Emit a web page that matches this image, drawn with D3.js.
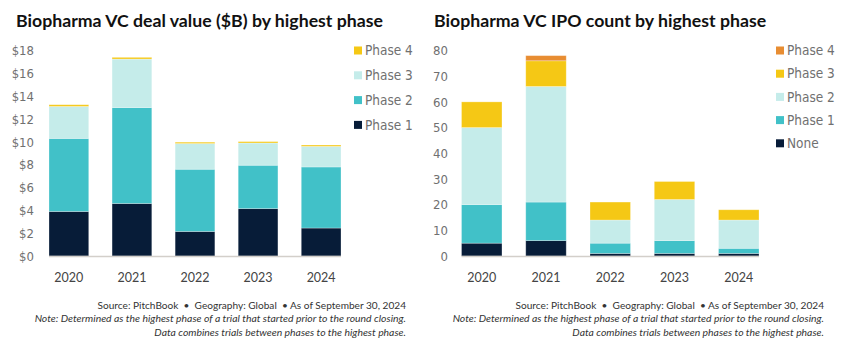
<!DOCTYPE html>
<html>
<head>
<meta charset="utf-8">
<script src="https://cdn.jsdelivr.net/npm/d3@7"></script>
<style>
  body { margin: 0; background: #fff; }
  svg { display: block; }
  .title { font-family: "Lato", "Open Sans", sans-serif; font-weight: 700; font-size: 17.7px; fill: #111; }
  .tick text { font-family: "Liberation Sans Narrow", "DejaVu Sans Condensed", "Roboto", sans-serif; font-size: 13px; font-weight: 300; fill: #707070; }
  .year { font-family: "Lato", "Open Sans", sans-serif; font-size: 12.5px; fill: #444; }
  .leg { font-family: "Liberation Sans Narrow", "DejaVu Sans Condensed", "Roboto", sans-serif; font-size: 13.5px; font-weight: 300; fill: #707070; }
  .src { font-family: "Lato", "Open Sans", sans-serif; font-size: 10.1px; fill: #333; }
  .note { font-family: "Lato", "Open Sans", sans-serif; font-size: 10.4px; font-style: italic; fill: #333; }
</style>
</head>
<body>
<script>
var years = ["2020", "2021", "2022", "2023", "2024"];

// left chart: deal value ($B)
var dealPhases = ["Phase 1", "Phase 2", "Phase 3", "Phase 4"];
var dealPhase1 = [3.9, 4.6, 2.15, 4.15, 2.45];
var dealPhase2 = [6.4, 8.4, 5.45, 3.8, 5.35];
var dealPhase3 = [2.8, 4.25, 2.25, 1.95, 1.8];
var dealPhase4 = [0.15, 0.15, 0.12, 0.12, 0.12];
var dealColors = ["#071c38", "#41c1c8", "#c5ecea", "#f5c815"];
var dealTicks = [0, 2, 4, 6, 8, 10, 12, 14, 16, 18];

// right chart: IPO count
var ipoPhases = ["None", "Phase 1", "Phase 2", "Phase 3", "Phase 4"];
var ipoNone = [5, 6, 1, 1, 1];
var ipoPhase1 = [15, 15, 4, 5, 2];
var ipoPhase2 = [30, 45, 9, 16, 11];
var ipoPhase3 = [10, 10, 7, 7, 4];
var ipoPhase4 = [0, 2, 0, 0, 0];
var ipoColors = ["#071c38", "#41c1c8", "#c5ecea", "#f5c815", "#e88d32"];
var ipoTicks = [0, 10, 20, 30, 40, 50, 60, 70, 80];

var W = 849, H = 354;
var svg = d3.select("body").append("svg")
   .attr("width", W)
   .attr("height", H);

function drawChart(opt) {
   var g = svg.append("g");
   var rows = years.map(function (y, i) {
      var r = { year: y };
      opt.keys.forEach(function (k, j) { r[k] = opt.series[j][i]; });
      return r;
   });
   var stack = d3.stack().keys(opt.keys)(rows);

   var x = d3.scaleBand()
      .domain(years)
      .range(opt.xRange)
      .paddingInner(0.37)
      .paddingOuter(0);
   var y = d3.scaleLinear()
      .domain([0, opt.yMax])
      .range([256, opt.yTop]);

   g.append("text")
      .attr("class", "title")
      .attr("x", opt.titleX)
      .attr("y", 27)
      .text(opt.title);

   var yAxis = d3.axisLeft(y)
      .tickValues(opt.ticks)
      .tickSize(0)
      .tickPadding(0)
      .tickFormat(opt.fmt);
   g.append("g")
      .attr("transform", "translate(" + opt.tickX + ",0)")
      .call(yAxis)
      .call(function (a) { a.select(".domain").remove(); });

   g.selectAll("g.layer")
      .data(stack)
      .enter()
      .append("g")
      .attr("class", "layer")
      .attr("fill", function (d, i) { return opt.colors[i]; })
      .selectAll("rect")
      .data(function (d) { return d; })
      .enter()
      .append("rect")
      .attr("x", function (d) { return x(d.data.year); })
      .attr("width", x.bandwidth())
      .attr("y", function (d) { return y(d[1]); })
      .attr("height", function (d) { return Math.max(0, y(d[0]) - y(d[1])); })
      .attr("stroke", "#ffffff")
      .attr("stroke-opacity", 0.35)
      .attr("stroke-width", 0.8);

   g.append("line")
      .attr("x1", opt.xRange[0])
      .attr("x2", opt.xRange[1])
      .attr("y1", 256.5)
      .attr("y2", 256.5)
      .attr("stroke", "#d3cfca")
      .attr("stroke-width", 1.5);

   g.selectAll("text.year")
      .data(years)
      .enter()
      .append("text")
      .attr("class", "year")
      .attr("x", function (d) { return x(d) + x.bandwidth() / 2; })
      .attr("y", 282)
      .attr("text-anchor", "middle")
      .text(function (d) { return d; });

   // legend, top item = last key
   var legKeys = opt.keys.slice().reverse();
   var legCols = opt.colors.slice().reverse();
   legKeys.forEach(function (k, i) {
      var ly = opt.legY0 + i * opt.legStep;
      g.append("rect")
         .attr("x", opt.legX)
         .attr("y", ly - 4)
         .attr("width", 8)
         .attr("height", 8)
         .attr("fill", legCols[i]);
      g.append("text")
         .attr("class", "leg")
         .attr("x", opt.legX + 11)
         .attr("y", ly)
         .attr("dy", "0.35em")
         .text(k);
   });

   g.append("text")
      .attr("class", "src")
      .attr("x", opt.srcX)
      .attr("y", 308.5)
      .attr("text-anchor", "end")
      .attr("xml:space", "preserve")
      .text("Source: PitchBook  \u2022  Geography: Global  \u2022 As of September 30, 2024");
   g.append("text")
      .attr("class", "note")
      .attr("x", opt.srcX)
      .attr("y", 322)
      .attr("text-anchor", "end")
      .text("Note: Determined as the highest phase of a trial that started prior to the round closing.");
   g.append("text")
      .attr("class", "note")
      .attr("x", opt.srcX)
      .attr("y", 335.5)
      .attr("text-anchor", "end")
      .text("Data combines trials between phases to the highest phase.");
}

drawChart({
   title: "Biopharma VC deal value ($B) by highest phase",
   titleX: 16,
   keys: dealPhases,
   series: [dealPhase1, dealPhase2, dealPhase3, dealPhase4],
   colors: dealColors,
   ticks: dealTicks,
   yMax: 18,
   yTop: 50.5,
   fmt: function (d) { return "$" + d; },
   xRange: [49, 341],
   tickX: 34,
   legX: 354,
   legY0: 50.5,
   legStep: 24.8,
   srcX: 406
});

drawChart({
   title: "Biopharma VC IPO count by highest phase",
   titleX: 434,
   keys: ipoPhases,
   series: [ipoNone, ipoPhase1, ipoPhase2, ipoPhase3, ipoPhase4],
   colors: ipoColors,
   ticks: ipoTicks,
   yMax: 80,
   yTop: 50.5,
   fmt: function (d) { return d; },
   xRange: [461.5, 759],
   tickX: 448,
   legX: 776,
   legY0: 50.5,
   legStep: 23.2,
   srcX: 824
});
</script>
</body>
</html>
